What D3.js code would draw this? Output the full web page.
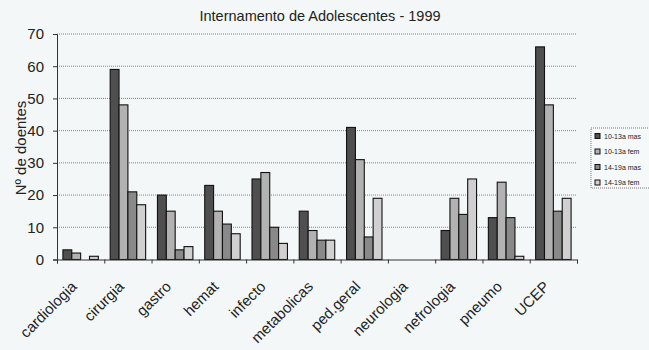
<!DOCTYPE html>
<html>
<head>
<meta charset="utf-8">
<script src="https://cdn.jsdelivr.net/npm/d3@7/dist/d3.min.js"></script>
<style>
  html, body { margin: 0; padding: 0; background: #f3f7f8; }
  svg { display: block; font-family: Arial, "Liberation Sans", sans-serif; }
</style>
</head>
<body>
<svg id="chart" width="649" height="350"></svg>
<script>
// Hospital admissions by department, split by age group and sex
const categories = ["cardiologia", "cirurgia", "gastro", "hemat", "infecto", "metabolicas",
                    "ped.geral", "neurologia", "nefrologia", "pneumo", "UCEP"];
const seriesNames = ["10-13a mas", "10-13a fem", "14-19a mas", "14-19a fem"];
const m1013 = [3, 59, 20, 23, 25, 15, 41, 0, 9, 13, 66];
const f1013 = [2, 48, 15, 15, 27, 9, 31, 0, 19, 24, 48];
const m1419 = [0, 21, 3, 11, 10, 6, 7, 0, 14, 13, 15];
const f1419 = [1, 17, 4, 8, 5, 6, 19, 0, 25, 1, 19];
const yTicks = [0, 10, 20, 30, 40, 50, 60, 70];
const title = "Internamento de Adolescentes - 1999";
const yTitle = "Nº de doentes";

const series = [m1013, f1013, m1419, f1419];
const colors = ["#4f4f4f", "#b2b2b2", "#898989", "#d0d0d0"];

const svg = d3.select("#chart");
const plotLeft = 57, plotRight = 577, plotTop = 34, plotBottom = 259.5;

const x0 = d3.scaleBand().domain(categories).range([plotLeft, plotRight]).paddingInner(0.25).paddingOuter(0.125);
const x1 = d3.scaleBand().domain(seriesNames).range([0, x0.bandwidth()]);
const y = d3.scaleLinear().domain([0, 70]).range([plotBottom, plotTop]);

// dotted gridlines
svg.append("g").selectAll("line").data(yTicks.filter(d => d > 0)).join("line")
  .attr("x1", plotLeft).attr("x2", plotRight)
  .attr("y1", d => y(d)).attr("y2", d => y(d))
  .attr("stroke", "#666").attr("stroke-width", 0.8)
  .attr("stroke-dasharray", "1,1");

// bars
const groups = svg.append("g").selectAll("g").data(categories).join("g")
  .attr("transform", d => `translate(${x0(d)},0)`);
groups.selectAll("rect")
  .data((c, i) => seriesNames.map((s, k) => ({ s, k, v: series[k][i] })).filter(d => d.v > 0))
  .join("rect")
  .attr("x", d => x1(d.s))
  .attr("width", x1.bandwidth())
  .attr("y", d => y(d.v))
  .attr("height", d => y(0) - y(d.v))
  .attr("fill", d => colors[d.k])
  .attr("stroke", "#111").attr("stroke-width", 1.1);

// y axis
const yAxis = d3.axisLeft(y).tickValues(yTicks).tickSize(4).tickPadding(9).tickFormat(d3.format("d"));
const gy = svg.append("g").attr("transform", `translate(${plotLeft},0)`).call(yAxis);
gy.select(".domain").attr("stroke", "#333");
gy.selectAll(".tick line").attr("stroke", "#333");
gy.selectAll("text").attr("font-size", 15).attr("fill", "#222")
  .attr("font-family", "Arial, 'Liberation Sans', sans-serif");

// x axis: ticks on category boundaries, labels rotated
const xb = d3.scaleLinear().domain([0, categories.length]).range([plotLeft, plotRight]);
const xAxis = d3.axisBottom(xb).tickValues(d3.range(categories.length + 1)).tickSize(4).tickFormat("");
const gx = svg.append("g").attr("transform", `translate(0,${plotBottom})`).call(xAxis);
gx.select(".domain").attr("stroke", "#333");
gx.selectAll(".tick line").attr("stroke", "#333");

svg.append("g").selectAll("text").data(categories).join("text")
  .attr("transform", d => `translate(${x0(d) + x0.bandwidth() / 2 - 3},${plotBottom + 28}) rotate(-45)`)
  .attr("text-anchor", "end")
  .attr("font-size", 15).attr("fill", "#222")
  .text(d => d);

// titles
svg.append("text").attr("x", 320).attr("y", 21).attr("text-anchor", "middle")
  .attr("font-size", 14.5).attr("fill", "#222").text(title);
svg.append("text").attr("transform", `translate(26,148) rotate(-90)`)
  .attr("text-anchor", "middle").attr("font-size", 15).attr("fill", "#222").text(yTitle);

// legend
const lg = svg.append("g").attr("transform", "translate(591,128)");
lg.append("rect").attr("width", 62).attr("height", 60)
  .attr("fill", "#f6f9fa").attr("stroke", "#555").attr("stroke-width", 0.8)
  .attr("stroke-dasharray", "1,1");
const items = lg.selectAll("g").data(seriesNames).join("g")
  .attr("transform", (d, i) => `translate(4,${8 + i * 15.5})`);
items.append("rect").attr("x", 0).attr("y", -2.5).attr("width", 5).attr("height", 5)
  .attr("fill", (d, i) => colors[i]).attr("stroke", "#111").attr("stroke-width", 1);
items.append("text").attr("x", 9).attr("y", 2.5).attr("font-size", 7).attr("fill", "#222").text(d => d);
</script>
</body>
</html>
